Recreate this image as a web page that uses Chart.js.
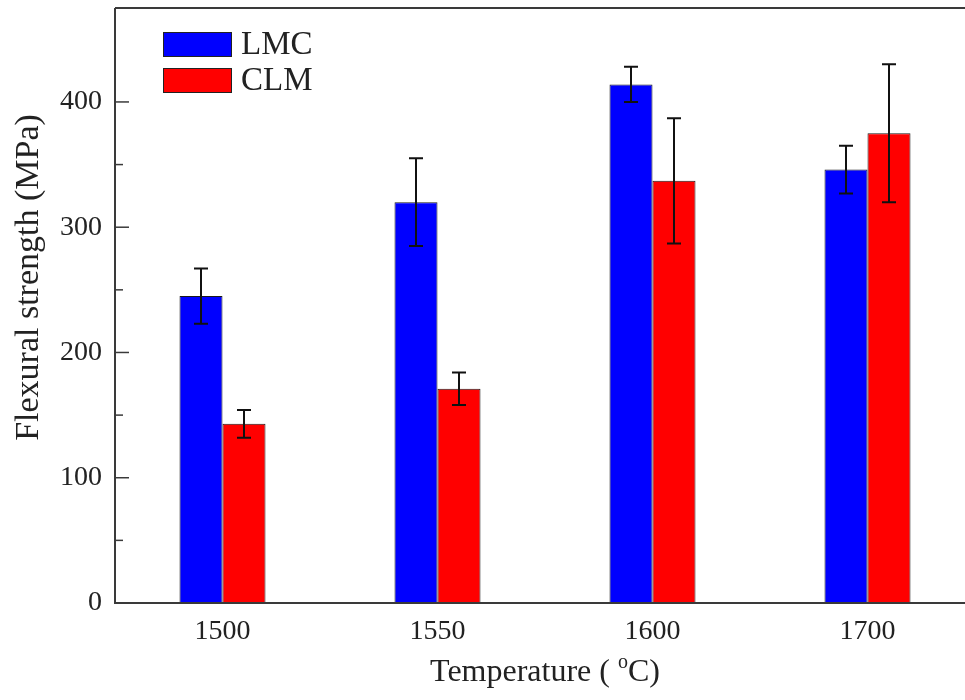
<!DOCTYPE html>
<html>
<head>
<meta charset="utf-8">
<script src="https://cdn.jsdelivr.net/npm/chart.js@4.4.1/dist/chart.umd.min.js"></script>
<style>
  html, body { margin: 0; padding: 0; background: #fff; overflow: hidden; }
  #wrap { width: 976px; height: 700px; }
</style>
</head>
<body>
<div id="wrap"><canvas id="flex-chart" width="976" height="700"></canvas></div>
<script>
// temperatures (categories)
const temps = ["1500", "1550", "1600", "1700"];
// flexural strength, MPa
const lmcVals = [245, 320, 414, 346];
const lmcErr = [22, 35, 14, 19];
const clmVals = [143, 171, 337, 375];
const clmErr = [11, 13, 50, 55];
const yMajor = [0, 100, 200, 300, 400];

const serif = "'Liberation Serif', 'Times New Roman', serif";
const axisColor = "#3a3a3a";

// error bars, drawn from the bar elements + y scale
const errorBars = {
  id: "errorBars",
  afterDatasetsDraw(chart) {
    const ctx = chart.ctx;
    const y = chart.scales.y;
    chart.data.datasets.forEach((ds, i) => {
      const meta = chart.getDatasetMeta(i);
      meta.data.forEach((bar, j) => {
        const v = ds.data[j], e = ds.errors[j];
        const top = y.getPixelForValue(v + e);
        const bot = y.getPixelForValue(v - e);
        ctx.save();
        ctx.strokeStyle = "#111";
        ctx.lineWidth = 2;
        ctx.beginPath();
        ctx.moveTo(bar.x, top); ctx.lineTo(bar.x, bot);
        ctx.moveTo(bar.x - 7, top); ctx.lineTo(bar.x + 7, top);
        ctx.moveTo(bar.x - 7, bot); ctx.lineTo(bar.x + 7, bot);
        ctx.stroke();
        ctx.restore();
      });
    });
  }
};

// origin-style frame, inward ticks, titles and inset legend
const frame = {
  id: "frame",
  afterDraw(chart) {
    const ctx = chart.ctx;
    const a = chart.chartArea;
    const y = chart.scales.y;
    ctx.save();
    ctx.strokeStyle = axisColor;
    ctx.lineWidth = 2;
    ctx.beginPath();
    ctx.moveTo(a.left, a.top); ctx.lineTo(a.left, a.bottom);
    ctx.lineTo(a.right, a.bottom);
    ctx.moveTo(a.left, a.top); ctx.lineTo(a.right, a.top);
    ctx.stroke();

    ctx.lineWidth = 1.5;
    y.ticks.forEach((t) => {
      const py = y.getPixelForValue(t.value);
      const len = yMajor.includes(t.value) ? 14 : 8;
      ctx.beginPath();
      ctx.moveTo(a.left, py); ctx.lineTo(a.left + len, py);
      ctx.stroke();
    });

    // y title
    ctx.fillStyle = "#222";
    ctx.font = "34px " + serif;
    ctx.textAlign = "center";
    ctx.textBaseline = "middle";
    ctx.save();
    ctx.translate(29, (a.top + a.bottom) / 2 - 28);
    ctx.rotate(-Math.PI / 2);
    ctx.fillText("Flexural strength (MPa)", 0, 0);
    ctx.restore();

    // x title with superscript o
    const cx = (a.left + a.right) / 2;
    const by = a.bottom + 78;
    ctx.textBaseline = "alphabetic";
    ctx.textAlign = "left";
    const big = "32px " + serif, small = "20px " + serif;
    ctx.font = big;
    const p1 = "Temperature ( ", p3 = "C)";
    const w1 = ctx.measureText(p1).width, w3 = ctx.measureText(p3).width;
    ctx.font = small;
    const w2 = ctx.measureText("o").width;
    let x0 = cx - (w1 + w2 + w3) / 2;
    ctx.font = big;
    ctx.fillText(p1, x0, by);
    ctx.font = small;
    ctx.fillText("o", x0 + w1, by - 13);
    ctx.font = big;
    ctx.fillText(p3, x0 + w1 + w2, by);

    // legend
    ctx.font = "33px " + serif;
    ctx.textBaseline = "middle";
    chart.data.datasets.forEach((ds, i) => {
      const lx = a.left + 48, ly = a.top + 24 + i * 36;
      ctx.fillStyle = ds.backgroundColor;
      ctx.fillRect(lx, ly, 69, 25);
      ctx.strokeStyle = "#222";
      ctx.lineWidth = 1;
      ctx.strokeRect(lx + 0.5, ly + 0.5, 68, 24);
      ctx.fillStyle = "#222";
      ctx.fillText(ds.label, lx + 78, ly + 13);
    });
    ctx.restore();
  }
};

new Chart(document.getElementById("flex-chart"), {
  type: "bar",
  data: {
    labels: temps,
    datasets: [
      {
        label: "LMC",
        data: lmcVals,
        errors: lmcErr,
        backgroundColor: "#0000ff",
        borderColor: "#1a1a1a",
        borderWidth: 1,
      },
      {
        label: "CLM",
        data: clmVals,
        errors: clmErr,
        backgroundColor: "#ff0000",
        borderColor: "#1a1a1a",
        borderWidth: 1,
      },
    ],
  },
  options: {
    responsive: false,
    animation: false,
    layout: { padding: { top: 8, right: 1, left: 0, bottom: 0 } },
    datasets: { bar: { categoryPercentage: 0.4, barPercentage: 1.0 } },
    plugins: {
      legend: { display: false },
      tooltip: { enabled: false },
    },
    scales: {
      x: {
        grid: { display: false, drawTicks: false },
        border: { display: false },
        ticks: {
          color: "#222",
          font: { family: serif, size: 28 },
          padding: 12,
        },
        afterFit(scale) {
          scale.height = 97;
          scale.paddingLeft = 0;
          scale.paddingRight = 0;
        },
      },
      y: {
        min: 0,
        max: 475,
        grid: { display: false, drawTicks: false },
        border: { display: false },
        afterBuildTicks(scale) {
          scale.ticks = scale.ticks.filter((t) => t.value % 50 === 0);
        },
        ticks: {
          stepSize: 50,
          color: "#222",
          font: { family: serif, size: 28 },
          padding: 13,
          callback: (v) => (yMajor.includes(v) ? String(v) : ""),
        },
        afterFit(scale) {
          scale.width = 115;
          scale.paddingTop = 0;
          scale.paddingBottom = 0;
        },
      },
    },
  },
  plugins: [errorBars, frame],
});
</script>
</body>
</html>
